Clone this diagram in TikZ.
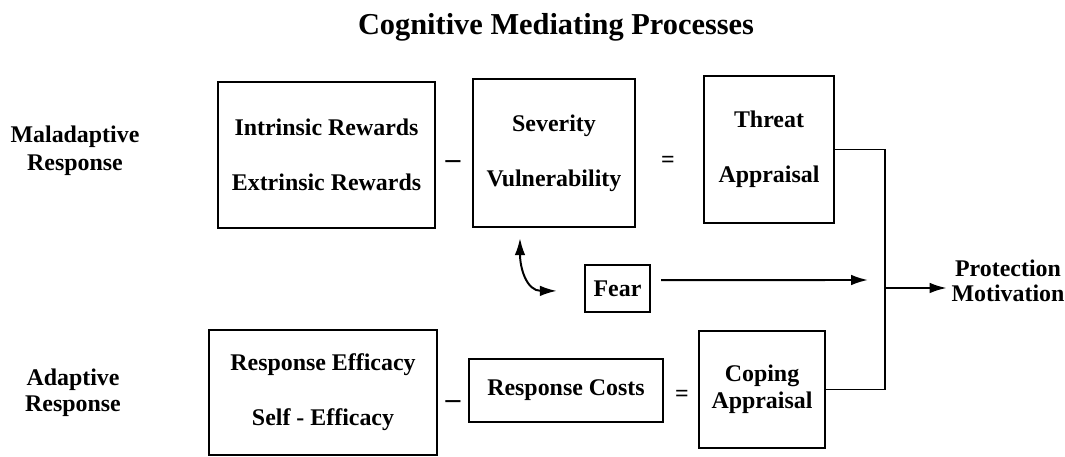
\documentclass[tikz,border=0pt]{standalone}
\usepackage{fontspec}
\setmainfont{Liberation Serif}
\usetikzlibrary{arrows.meta}

\begin{document}
\begin{tikzpicture}[x=0.025cm,y=-0.025cm,
    >={Latex[length=12pt,width=7.5pt]},
    box/.style={draw,line width=1.7pt,inner sep=0pt,align=center,font=\bfseries\fontsize{17}{39}\selectfont},
    lbl/.style={align=center,font=\bfseries\fontsize{17}{20}\selectfont},
    op/.style={font=\bfseries\fontsize{17}{20}\selectfont},
    conn/.style={line width=1.4pt}]
  \useasboundingbox (0,0) rectangle (1065,457);
  \node[font=\bfseries\fontsize{21.6}{26}\selectfont] (title) at (556,27) {Cognitive Mediating Processes};

  % row labels
  \node[lbl] (mal) at (75,151) {Maladaptive\\Response};
  \node[lbl,font=\bfseries\fontsize{17}{18.5}\selectfont] (ada) at (73,393) {Adaptive\\Response};

  % threat side
  \node[box,minimum width=5.425cm,minimum height=3.65cm] (rew) at (326.5,155) {Intrinsic Rewards\\Extrinsic Rewards};
  \node[op,font=\bfseries\fontsize{21}{20}\selectfont] (minus1) at (453,165) {--};
  \node[box,minimum width=4.05cm,minimum height=3.7cm] (sev) at (554,153) {Severity\\Vulnerability};
  \node[op] (eq1) at (668,162) {=};
  \node[box,minimum width=3.25cm,minimum height=3.675cm] (threat) at (769,149.5) {Threat\\Appraisal};

  % fear
  \node[box,minimum width=1.625cm,minimum height=1.175cm] (fear) at (617.5,288.5) {Fear};

  % coping side
  \node[box,minimum width=5.7cm,minimum height=3.125cm] (eff) at (323,392.5) {Response Efficacy\\Self - Efficacy};
  \node[op,font=\bfseries\fontsize{21}{20}\selectfont] (minus2) at (453,405) {--};
  \node[box,minimum width=4.85cm,minimum height=1.575cm] (costs) at (566,390.5) {Response Costs};
  \node[op] (eq2) at (682,396) {=};
  \node[box,minimum width=3.15cm,minimum height=2.925cm,font=\bfseries\fontsize{17}{19}\selectfont] (coping) at (762,389.5) {Coping\\Appraisal};

  % outcome
  \node[lbl,font=\bfseries\fontsize{17}{17.7}\selectfont] (pm) at (1008,280.5) {Protection\\Motivation};

  \coordinate (jn) at (885,288);
  \coordinate (fearto) at (868,280);
  \draw[conn] (threat.east) -| (jn) |- (coping.east);
  \draw[conn,->] (jn) -- (jn -| pm.west);
  \draw[conn,->,shorten <=0.25cm] ([yshift=0.21cm]fear.east) -- (fearto);
  \draw[conn,<->] ([xshift=-0.85cm,yshift=-0.25cm]sev.south) to[out=-90,in=180,looseness=1.2] ([xshift=-0.675cm,yshift=-0.06cm]fear.west);
\end{tikzpicture}
\end{document}
